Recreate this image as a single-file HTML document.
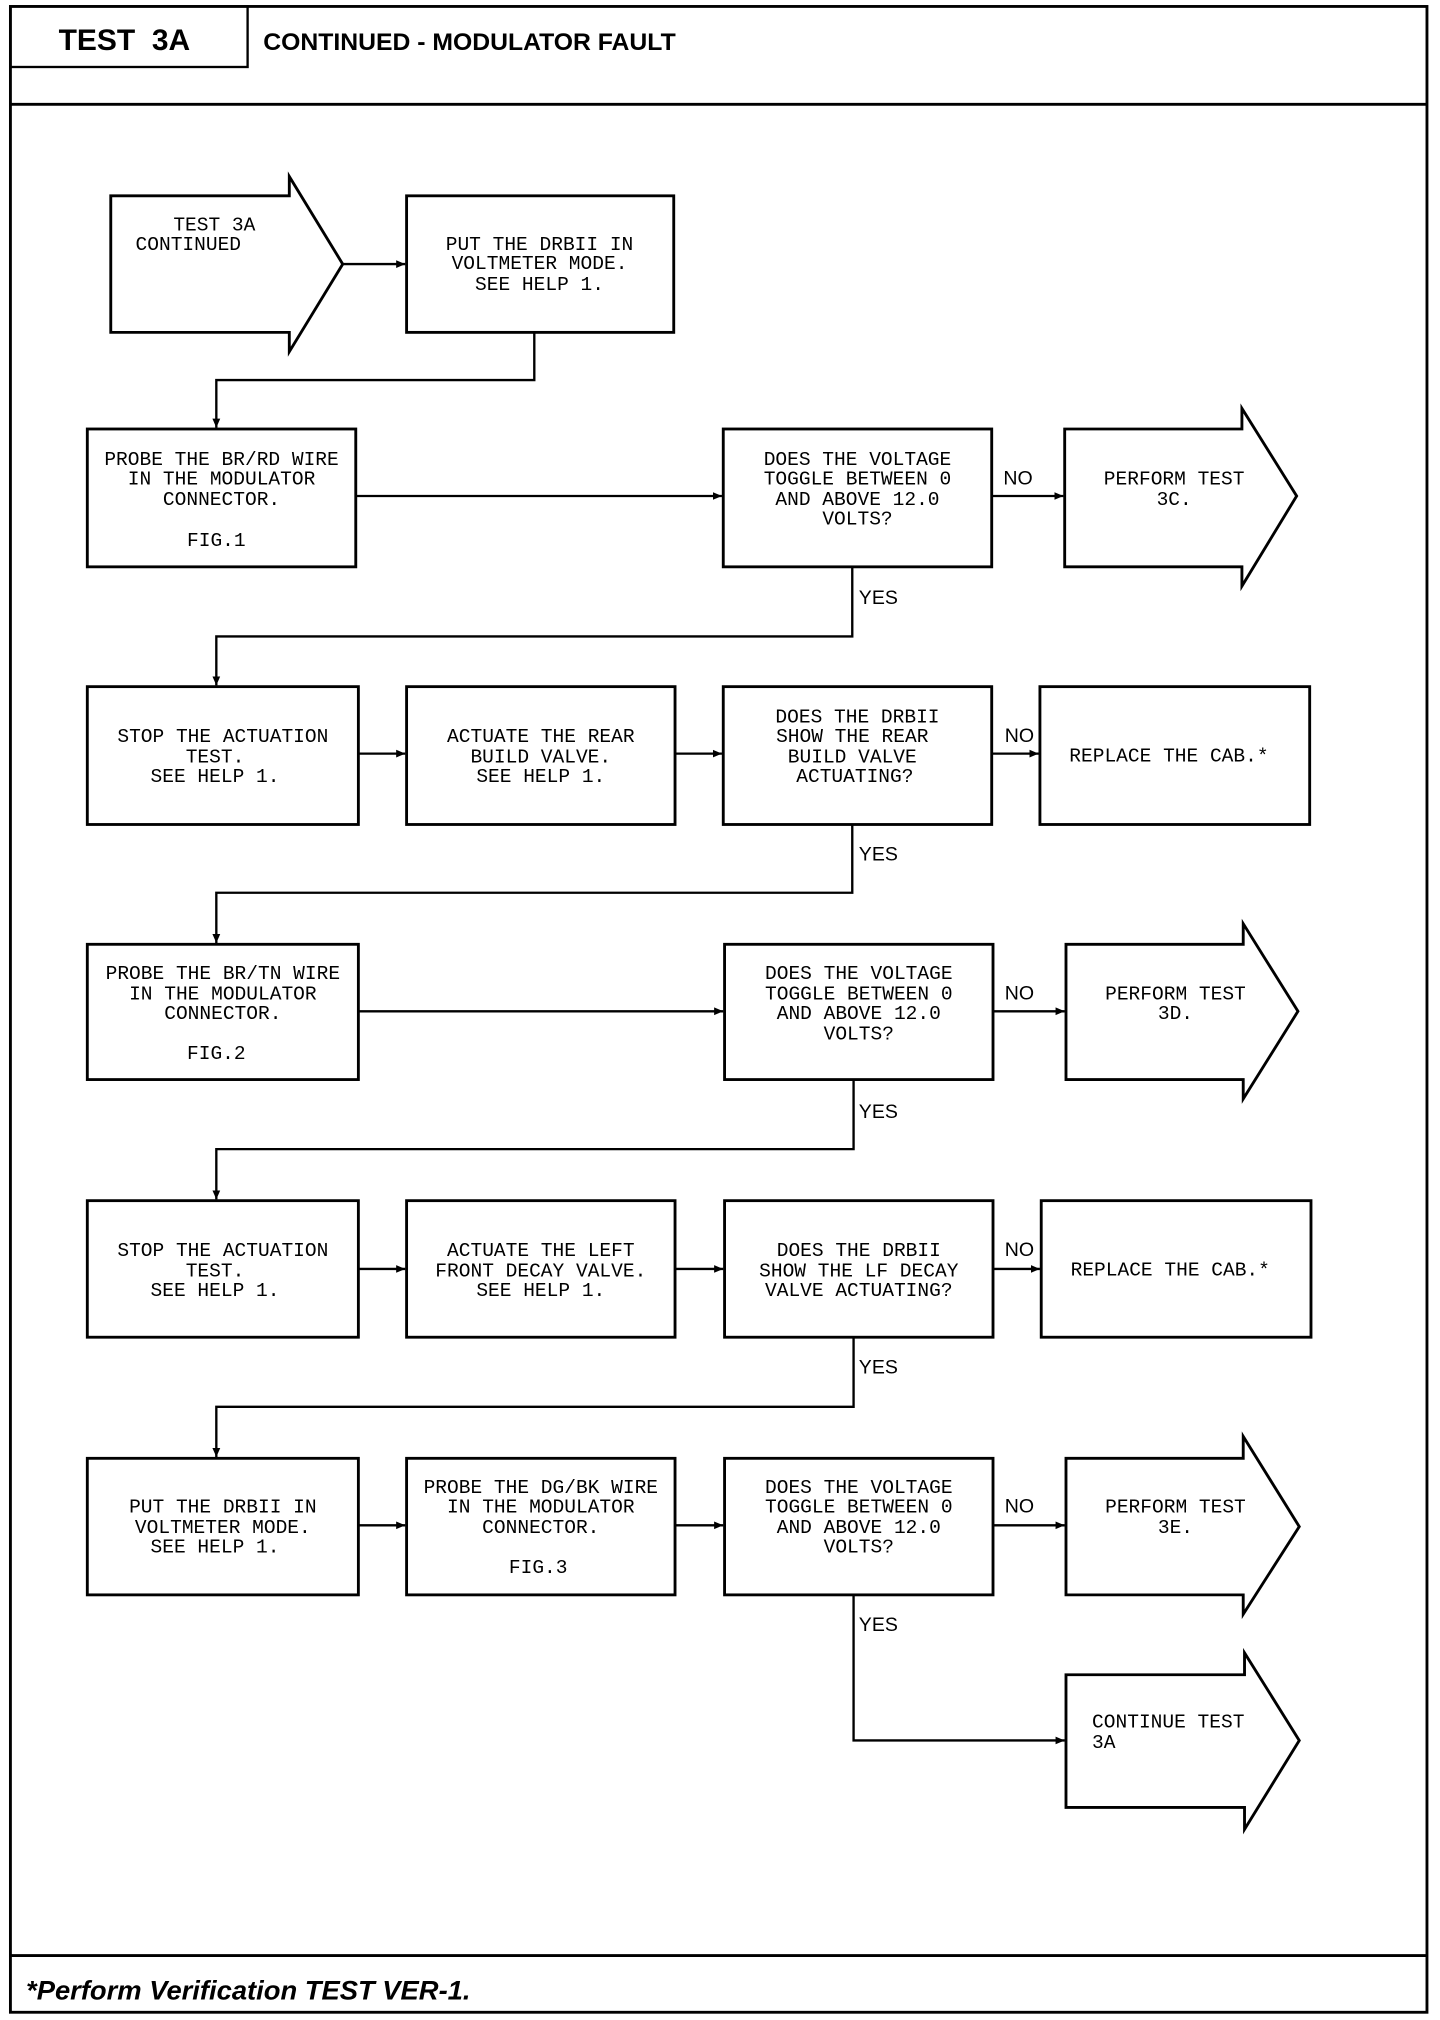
<!DOCTYPE html>
<html><head><meta charset="utf-8"><style>
html,body{margin:0;padding:0;background:#fff;}
svg{display:block;}
.b{fill:#fff;stroke:#000;stroke-width:2.2;}
.l{fill:none;stroke:#000;stroke-width:1.8;}
.t{font-family:"Liberation Mono",monospace;font-size:15px;fill:#000;text-anchor:middle;}
.s{font-family:"Liberation Mono",monospace;font-size:15px;fill:#000;}
.lab{font-family:"Liberation Sans",sans-serif;font-size:15px;fill:#000;}
</style></head><body>
<svg width="1440" height="2020" viewBox="0 0 1105 1568" preserveAspectRatio="none" xmlns="http://www.w3.org/2000/svg">
<defs><marker id="a" markerWidth="8" markerHeight="8" refX="7" refY="4" orient="auto" markerUnits="userSpaceOnUse"><path d="M0,1 L7,4 L0,7 z" fill="#000"/></marker></defs>
<rect x="8" y="5" width="1087" height="1557" fill="none" stroke="#000" stroke-width="2.2"/>
<rect x="8" y="5" width="182" height="47" fill="none" stroke="#000" stroke-width="1.8"/>
<line x1="8" y1="81" x2="1095" y2="81" stroke="#000" stroke-width="2.2"/>
<line x1="8" y1="1518" x2="1095" y2="1518" stroke="#000" stroke-width="2.2"/>
<text x="45" y="39" font-family="Liberation Sans,sans-serif" font-weight="bold" font-size="23">TEST&#160;&#160;3A</text>
<text x="202" y="39" font-family="Liberation Sans,sans-serif" font-weight="bold" font-size="19">CONTINUED - MODULATOR FAULT</text>
<text x="20" y="1552" font-family="Liberation Sans,sans-serif" font-weight="bold" font-style="italic" font-size="21">*Perform Verification TEST VER-1.</text>

<!-- start -->
<polygon class="b" points="85,152 222,152 222,137 263,205 222,273 222,258 85,258"/>
<text class="s" x="133" y="179">TEST 3A</text><text class="s" x="104" y="194">CONTINUED</text>
<rect class="b" x="312" y="152" width="205" height="106"/>
<text class="t" x="414" y="194">PUT THE DRBII IN</text><text class="t" x="414" y="209">VOLTMETER MODE.</text><text class="t" x="414" y="225">SEE HELP 1.</text>
<line class="l" x1="263" y1="205" x2="311" y2="205" marker-end="url(#a)"/>
<polyline class="l" points="410,258 410,295 166,295 166,332" marker-end="url(#a)"/>

<!-- row1 -->
<rect class="b" x="67" y="333" width="206" height="107"/>
<text class="t" x="170" y="361">PROBE THE BR/RD WIRE</text><text class="t" x="170" y="376">IN THE MODULATOR</text><text class="t" x="170" y="392">CONNECTOR.</text><text class="t" x="166" y="424">FIG.1</text>
<rect class="b" x="555" y="333" width="206" height="107"/>
<text class="t" x="658" y="361">DOES THE VOLTAGE</text><text class="t" x="658" y="376">TOGGLE BETWEEN 0</text><text class="t" x="658" y="392">AND ABOVE 12.0</text><text class="t" x="658" y="407">VOLTS?</text>
<line class="l" x1="273" y1="385" x2="554" y2="385" marker-end="url(#a)"/>
<text class="lab" x="770" y="376">NO</text>
<line class="l" x1="761" y1="385" x2="816" y2="385" marker-end="url(#a)"/>
<polygon class="b" points="817,333 953,333 953,317 995,385 953,455 953,440 817,440"/>
<text class="t" x="901" y="376">PERFORM TEST</text><text class="t" x="901" y="392">3C.</text>
<polyline class="l" points="654,440 654,494 166,494 166,532" marker-end="url(#a)"/>
<text class="lab" x="659" y="469">YES</text>

<!-- row2 -->
<rect class="b" x="67" y="533" width="208" height="107"/>
<text class="t" x="171" y="576">STOP THE ACTUATION</text><text class="t" x="165" y="592">TEST.</text><text class="t" x="165" y="607">SEE HELP 1.</text>
<rect class="b" x="312" y="533" width="206" height="107"/>
<text class="t" x="415" y="576">ACTUATE THE REAR</text><text class="t" x="415" y="592">BUILD VALVE.</text><text class="t" x="415" y="607">SEE HELP 1.</text>
<rect class="b" x="555" y="533" width="206" height="107"/>
<text class="t" x="658" y="561">DOES THE DRBII</text><text class="t" x="654" y="576">SHOW THE REAR</text><text class="t" x="654" y="592">BUILD VALVE</text><text class="t" x="656" y="607">ACTUATING?</text>
<line class="l" x1="275" y1="585" x2="311" y2="585" marker-end="url(#a)"/>
<line class="l" x1="518" y1="585" x2="554" y2="585" marker-end="url(#a)"/>
<text class="lab" x="771" y="576">NO</text>
<line class="l" x1="761" y1="585" x2="797" y2="585" marker-end="url(#a)"/>
<rect class="b" x="798" y="533" width="207" height="107"/>
<text class="t" x="897" y="591">REPLACE THE CAB.*</text>
<polyline class="l" points="654,640 654,693 166,693 166,732" marker-end="url(#a)"/>
<text class="lab" x="659" y="668">YES</text>

<!-- row3 -->
<rect class="b" x="67" y="733" width="208" height="105"/>
<text class="t" x="171" y="760">PROBE THE BR/TN WIRE</text><text class="t" x="171" y="776">IN THE MODULATOR</text><text class="t" x="171" y="791">CONNECTOR.</text><text class="t" x="166" y="822">FIG.2</text>
<rect class="b" x="556" y="733" width="206" height="105"/>
<text class="t" x="659" y="760">DOES THE VOLTAGE</text><text class="t" x="659" y="776">TOGGLE BETWEEN 0</text><text class="t" x="659" y="791">AND ABOVE 12.0</text><text class="t" x="659" y="807">VOLTS?</text>
<line class="l" x1="275" y1="785" x2="555" y2="785" marker-end="url(#a)"/>
<text class="lab" x="771" y="776">NO</text>
<line class="l" x1="762" y1="785" x2="817" y2="785" marker-end="url(#a)"/>
<polygon class="b" points="818,733 954,733 954,717 996,785 954,853 954,838 818,838"/>
<text class="t" x="902" y="776">PERFORM TEST</text><text class="t" x="902" y="791">3D.</text>
<polyline class="l" points="655,838 655,892 166,892 166,931" marker-end="url(#a)"/>
<text class="lab" x="659" y="868">YES</text>

<!-- row4 -->
<rect class="b" x="67" y="932" width="208" height="106"/>
<text class="t" x="171" y="975">STOP THE ACTUATION</text><text class="t" x="165" y="991">TEST.</text><text class="t" x="165" y="1006">SEE HELP 1.</text>
<rect class="b" x="312" y="932" width="206" height="106"/>
<text class="t" x="415" y="975">ACTUATE THE LEFT</text><text class="t" x="415" y="991">FRONT DECAY VALVE.</text><text class="t" x="415" y="1006">SEE HELP 1.</text>
<rect class="b" x="556" y="932" width="206" height="106"/>
<text class="t" x="659" y="975">DOES THE DRBII</text><text class="t" x="659" y="991">SHOW THE LF DECAY</text><text class="t" x="659" y="1006">VALVE ACTUATING?</text>
<line class="l" x1="275" y1="985" x2="311" y2="985" marker-end="url(#a)"/>
<line class="l" x1="518" y1="985" x2="555" y2="985" marker-end="url(#a)"/>
<text class="lab" x="771" y="975">NO</text>
<line class="l" x1="762" y1="985" x2="798" y2="985" marker-end="url(#a)"/>
<rect class="b" x="799" y="932" width="207" height="106"/>
<text class="t" x="898" y="990">REPLACE THE CAB.*</text>
<polyline class="l" points="655,1038 655,1092 166,1092 166,1131" marker-end="url(#a)"/>
<text class="lab" x="659" y="1066">YES</text>

<!-- row5 -->
<rect class="b" x="67" y="1132" width="208" height="106"/>
<text class="t" x="171" y="1174">PUT THE DRBII IN</text><text class="t" x="171" y="1190">VOLTMETER MODE.</text><text class="t" x="165" y="1205">SEE HELP 1.</text>
<rect class="b" x="312" y="1132" width="206" height="106"/>
<text class="t" x="415" y="1159">PROBE THE DG/BK WIRE</text><text class="t" x="415" y="1174">IN THE MODULATOR</text><text class="t" x="415" y="1190">CONNECTOR.</text><text class="t" x="413" y="1221">FIG.3</text>
<rect class="b" x="556" y="1132" width="206" height="106"/>
<text class="t" x="659" y="1159">DOES THE VOLTAGE</text><text class="t" x="659" y="1174">TOGGLE BETWEEN 0</text><text class="t" x="659" y="1190">AND ABOVE 12.0</text><text class="t" x="659" y="1205">VOLTS?</text>
<line class="l" x1="275" y1="1184" x2="311" y2="1184" marker-end="url(#a)"/>
<line class="l" x1="518" y1="1184" x2="555" y2="1184" marker-end="url(#a)"/>
<text class="lab" x="771" y="1174">NO</text>
<line class="l" x1="762" y1="1184" x2="817" y2="1184" marker-end="url(#a)"/>
<polygon class="b" points="818,1132 954,1132 954,1115 997,1185 954,1253 954,1238 818,1238"/>
<text class="t" x="902" y="1174">PERFORM TEST</text><text class="t" x="902" y="1190">3E.</text>
<polyline class="l" points="655,1238 655,1351 817,1351" marker-end="url(#a)"/>
<text class="lab" x="659" y="1266">YES</text>
<polygon class="b" points="818,1300 955,1300 955,1283 997,1351 955,1420 955,1403 818,1403"/>
<text class="s" x="838" y="1341">CONTINUE TEST</text><text class="s" x="838" y="1357">3A</text>
</svg>
</body></html>
